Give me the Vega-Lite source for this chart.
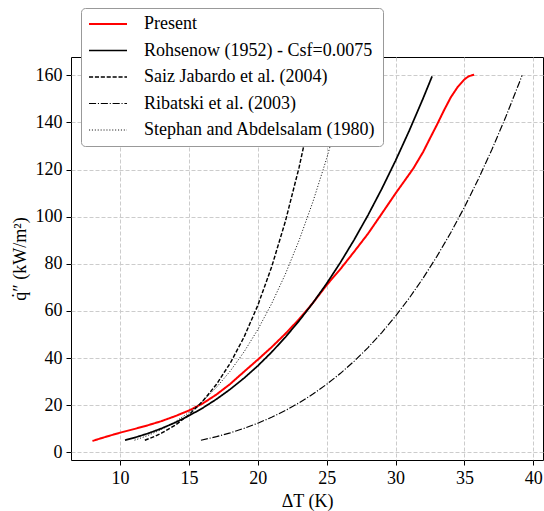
{
  "$schema": "https://vega.github.io/schema/vega-lite/v6.json",
  "width": 472,
  "height": 403,
  "autosize": {"type": "none"},
  "padding": {"left": 71, "top": 57, "right": 1, "bottom": 51},
  "background": "white",
  "config": {
    "view": {"stroke": "black", "strokeWidth": 1},
    "font": "Liberation Serif",
    "axis": {
      "labelFont": "Liberation Serif",
      "labelFontSize": 18,
      "labelColor": "black",
      "titleFont": "Liberation Serif",
      "titleFontSize": 18,
      "titleFontWeight": "normal",
      "titleColor": "black",
      "tickColor": "black",
      "tickSize": 5,
      "tickWidth": 1,
      "domain": false,
      "grid": true,
      "gridColor": "#cccccc",
      "gridDash": [4, 2],
      "gridWidth": 1
    }
  },
  "data": {
    "values": [
      {"series": "Present", "T": 8, "q": 4.8},
      {"series": "Present", "T": 9, "q": 6.6},
      {"series": "Present", "T": 10, "q": 8.3},
      {"series": "Present", "T": 11, "q": 9.8},
      {"series": "Present", "T": 12, "q": 11.4},
      {"series": "Present", "T": 13, "q": 13.2},
      {"series": "Present", "T": 14, "q": 15.3},
      {"series": "Present", "T": 15, "q": 17.7},
      {"series": "Present", "T": 16, "q": 20.7},
      {"series": "Present", "T": 17, "q": 24.5},
      {"series": "Present", "T": 18, "q": 29.0},
      {"series": "Present", "T": 19, "q": 34.2},
      {"series": "Present", "T": 20, "q": 39.3},
      {"series": "Present", "T": 21, "q": 44.6},
      {"series": "Present", "T": 22, "q": 50.3},
      {"series": "Present", "T": 23, "q": 56.5},
      {"series": "Present", "T": 24, "q": 63.4},
      {"series": "Present", "T": 25, "q": 71.0},
      {"series": "Present", "T": 26, "q": 77.8},
      {"series": "Present", "T": 27, "q": 85.2},
      {"series": "Present", "T": 28, "q": 92.8},
      {"series": "Present", "T": 29, "q": 101.3},
      {"series": "Present", "T": 30, "q": 109.9},
      {"series": "Present", "T": 31, "q": 118.1},
      {"series": "Present", "T": 31.3, "q": 120.6},
      {"series": "Present", "T": 32, "q": 127.5},
      {"series": "Present", "T": 32.5, "q": 133.3},
      {"series": "Present", "T": 33, "q": 139.0},
      {"series": "Present", "T": 33.5, "q": 145.0},
      {"series": "Present", "T": 34, "q": 150.6},
      {"series": "Present", "T": 34.5, "q": 155.0},
      {"series": "Present", "T": 35, "q": 158.3},
      {"series": "Present", "T": 35.3, "q": 159.6},
      {"series": "Present", "T": 35.7, "q": 160.3},

      {"series": "Rohsenow", "T": 10.36, "q": 5.10},
      {"series": "Rohsenow", "T": 11, "q": 6.10},
      {"series": "Rohsenow", "T": 12, "q": 7.92},
      {"series": "Rohsenow", "T": 13, "q": 10.08},
      {"series": "Rohsenow", "T": 14, "q": 12.58},
      {"series": "Rohsenow", "T": 15, "q": 15.48},
      {"series": "Rohsenow", "T": 16, "q": 18.78},
      {"series": "Rohsenow", "T": 17, "q": 22.53},
      {"series": "Rohsenow", "T": 18, "q": 26.75},
      {"series": "Rohsenow", "T": 19, "q": 31.46},
      {"series": "Rohsenow", "T": 20, "q": 36.69},
      {"series": "Rohsenow", "T": 21, "q": 42.47},
      {"series": "Rohsenow", "T": 22, "q": 48.83},
      {"series": "Rohsenow", "T": 23, "q": 55.80},
      {"series": "Rohsenow", "T": 24, "q": 63.40},
      {"series": "Rohsenow", "T": 25, "q": 71.66},
      {"series": "Rohsenow", "T": 26, "q": 80.60},
      {"series": "Rohsenow", "T": 27, "q": 90.27},
      {"series": "Rohsenow", "T": 28, "q": 100.67},
      {"series": "Rohsenow", "T": 29, "q": 111.85},
      {"series": "Rohsenow", "T": 30, "q": 123.82},
      {"series": "Rohsenow", "T": 31, "q": 136.62},
      {"series": "Rohsenow", "T": 32, "q": 150.27},
      {"series": "Rohsenow", "T": 32.65, "q": 159.6},

      {"series": "Saiz", "T": 11.8, "q": 5.1},
      {"series": "Saiz", "T": 12.5, "q": 6.70},
      {"series": "Saiz", "T": 13, "q": 8.08},
      {"series": "Saiz", "T": 14, "q": 11.47},
      {"series": "Saiz", "T": 15, "q": 15.92},
      {"series": "Saiz", "T": 16, "q": 21.63},
      {"series": "Saiz", "T": 17, "q": 28.84},
      {"series": "Saiz", "T": 18, "q": 37.83},
      {"series": "Saiz", "T": 19, "q": 48.89},
      {"series": "Saiz", "T": 20, "q": 62.36},
      {"series": "Saiz", "T": 21, "q": 78.60},
      {"series": "Saiz", "T": 22, "q": 98.02},
      {"series": "Saiz", "T": 23, "q": 121.04},
      {"series": "Saiz", "T": 24, "q": 148.1},
      {"series": "Saiz", "T": 24.4, "q": 160.2},

      {"series": "Ribatski", "T": 15.87, "q": 5.1},
      {"series": "Ribatski", "T": 17, "q": 6.63},
      {"series": "Ribatski", "T": 18, "q": 8.24},
      {"series": "Ribatski", "T": 19, "q": 10.13},
      {"series": "Ribatski", "T": 20, "q": 12.32},
      {"series": "Ribatski", "T": 21, "q": 14.84},
      {"series": "Ribatski", "T": 22, "q": 17.72},
      {"series": "Ribatski", "T": 23, "q": 20.99},
      {"series": "Ribatski", "T": 24, "q": 24.69},
      {"series": "Ribatski", "T": 25, "q": 28.85},
      {"series": "Ribatski", "T": 26, "q": 33.50},
      {"series": "Ribatski", "T": 27, "q": 38.69},
      {"series": "Ribatski", "T": 28, "q": 44.44},
      {"series": "Ribatski", "T": 29, "q": 50.80},
      {"series": "Ribatski", "T": 30, "q": 57.82},
      {"series": "Ribatski", "T": 31, "q": 65.52},
      {"series": "Ribatski", "T": 32, "q": 73.95},
      {"series": "Ribatski", "T": 33, "q": 83.16},
      {"series": "Ribatski", "T": 34, "q": 93.18},
      {"series": "Ribatski", "T": 35, "q": 104.08},
      {"series": "Ribatski", "T": 36, "q": 115.88},
      {"series": "Ribatski", "T": 37, "q": 128.63},
      {"series": "Ribatski", "T": 38, "q": 142.40},
      {"series": "Ribatski", "T": 39, "q": 157.22},
      {"series": "Ribatski", "T": 39.18, "q": 160.0},

      {"series": "Stephan", "T": 11.05, "q": 5.1},
      {"series": "Stephan", "T": 12, "q": 7.04},
      {"series": "Stephan", "T": 13, "q": 9.64},
      {"series": "Stephan", "T": 14, "q": 12.88},
      {"series": "Stephan", "T": 15, "q": 16.88},
      {"series": "Stephan", "T": 16, "q": 21.73},
      {"series": "Stephan", "T": 17, "q": 27.55},
      {"series": "Stephan", "T": 18, "q": 34.47},
      {"series": "Stephan", "T": 19, "q": 42.60},
      {"series": "Stephan", "T": 20, "q": 52.08},
      {"series": "Stephan", "T": 21, "q": 63.03},
      {"series": "Stephan", "T": 22, "q": 75.63},
      {"series": "Stephan", "T": 23, "q": 90.02},
      {"series": "Stephan", "T": 24, "q": 106.34},
      {"series": "Stephan", "T": 25, "q": 124.77},
      {"series": "Stephan", "T": 26, "q": 145.49},
      {"series": "Stephan", "T": 26.64, "q": 160.0}
    ]
  },
  "mark": {"type": "line", "strokeCap": "butt"},
  "encoding": {
    "x": {
      "field": "T",
      "type": "quantitative",
      "scale": {"domain": [6.44, 40.7], "nice": false, "zero": false},
      "axis": {"values": [10, 15, 20, 25, 30, 35, 40], "title": "ΔT (K)", "labelPadding": 4, "titlePadding": 5}
    },
    "y": {
      "field": "q",
      "type": "quantitative",
      "scale": {"domain": [-3.3, 167.8], "nice": false, "zero": false},
      "axis": {"values": [0, 20, 40, 60, 80, 100, 120, 140, 160], "title": "q̇″ (kW/m²)", "labelPadding": 4, "titlePadding": 6}
    },
    "color": {
      "field": "series",
      "type": "nominal",
      "scale": {
        "domain": ["Present", "Rohsenow", "Saiz", "Ribatski", "Stephan"],
        "range": ["#ff0000", "#000000", "#000000", "#000000", "#000000"]
      },
      "legend": {
        "title": null,
        "orient": "none",
        "legendX": 10,
        "legendY": -49,
        "symbolType": "stroke",
        "symbolSize": 1444,
        "clipHeight": 18,
        "labelFont": "Liberation Serif",
        "labelFontSize": 18,
        "labelColor": "black",
        "labelLimit": 500,
        "labelOffset": 16,
        "rowPadding": 8.5,
        "padding": 7,
        "fillColor": "white",
        "strokeColor": "#999999",
        "cornerRadius": 4,
        "labelExpr": "datum.value == 'Present' ? 'Present' : datum.value == 'Rohsenow' ? 'Rohsenow (1952) - Csf=0.0075' : datum.value == 'Saiz' ? 'Saiz Jabardo et al. (2004)' : datum.value == 'Ribatski' ? 'Ribatski et al. (2003)' : 'Stephan and Abdelsalam (1980)'"
      }
    },
    "strokeDash": {
      "field": "series",
      "type": "nominal",
      "scale": {
        "domain": ["Present", "Rohsenow", "Saiz", "Ribatski", "Stephan"],
        "range": [[1, 0], [1, 0], [4.1, 1.8], [7.1, 1.8, 1.1, 1.8], [1.1, 1.8]]
      },
      "legend": null
    },
    "strokeWidth": {
      "field": "series",
      "type": "nominal",
      "scale": {
        "domain": ["Present", "Rohsenow", "Saiz", "Ribatski", "Stephan"],
        "range": [2, 0.9, 0.9, 0.9, 0.9]
      },
      "legend": null
    }
  }
}
